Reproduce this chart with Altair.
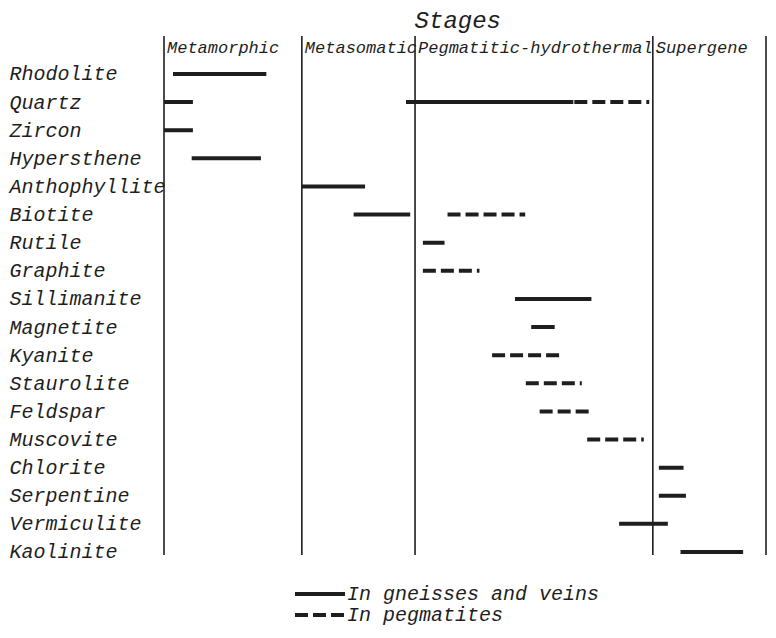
import altair as alt
import pandas as pd

minerals = ["Rhodolite", "Quartz", "Zircon", "Hypersthene", "Anthophyllite", "Biotite",
            "Rutile", "Graphite", "Sillimanite", "Magnetite", "Kyanite", "Staurolite",
            "Feldspar", "Muscovite", "Chlorite", "Serpentine", "Vermiculite", "Kaolinite"]

stage_names = ["Metamorphic", "Metasomatic", "Pegmatitic-hydrothermal", "Supergene"]
stage_bounds = [0, 22.9, 41.7, 81.2, 100]

kinds = ["In gneisses and veins", "In pegmatites"]
G, P = kinds
dash_patterns = [[1, 0], [13, 5]]

seg_mineral = ["Rhodolite", "Quartz", "Quartz", "Quartz", "Zircon", "Hypersthene",
               "Anthophyllite", "Biotite", "Biotite", "Rutile", "Graphite", "Sillimanite",
               "Magnetite", "Kyanite", "Staurolite", "Feldspar", "Muscovite", "Chlorite",
               "Serpentine", "Vermiculite", "Kaolinite"]
seg_start = [1.5, 0, 40.2, 56.2, 0, 4.6, 22.9, 31.5, 47.1, 43.0, 43.0, 58.3,
             61.0, 54.5, 60.1, 62.4, 70.3, 82.2, 82.2, 75.6, 85.8]
seg_end = [17.0, 4.8, 68.0, 80.6, 4.8, 16.1, 33.4, 40.9, 60.0, 46.6, 52.4, 71.0,
           64.9, 65.7, 69.4, 71.3, 79.7, 86.3, 86.7, 83.7, 96.2]
seg_kind = [G, G, G, P, G, G, G, G, P, G, P, G, G, P, P, P, P, G, G, G, G]

FONT = "Liberation Mono"
INK = "#1e1e1e"

segs = pd.DataFrame({
    "mineral": seg_mineral,
    "row": [minerals.index(m) for m in seg_mineral],
    "start": seg_start,
    "end": seg_end,
    "kind": seg_kind,
})
bounds = pd.DataFrame({"b": stage_bounds})
stages = pd.DataFrame({"start": stage_bounds[:-1], "name": stage_names})

label_array = "[" + ",".join("'" + m + "'" for m in minerals) + "]"

xscale = alt.Scale(domain=[0, 100], nice=False, zero=False)
yscale = alt.Scale(domain=[-1.35, 17.107], reverse=True, nice=False, zero=False)

seg_layer = alt.Chart(segs).mark_rule(strokeWidth=4, color=INK, strokeCap="butt").encode(
    x=alt.X("start:Q", scale=xscale, axis=None),
    x2="end:Q",
    y=alt.Y("row:Q", scale=yscale, title=None,
            axis=alt.Axis(values=list(range(len(minerals))),
                          labelExpr=label_array + "[datum.value]",
                          grid=False, domain=False, ticks=False,
                          labelAlign="left", labelBaseline="middle",
                          labelPadding=155, labelFlush=False, labelOverlap=False,
                          labelLimit=0, labelFont=FONT, labelFontSize=20,
                          labelFontStyle="italic", labelColor=INK)),
    strokeDash=alt.StrokeDash(
        "kind:N",
        scale=alt.Scale(domain=kinds, range=dash_patterns),
        legend=None),
)

bound_layer = alt.Chart(bounds).mark_rule(strokeWidth=1.6, color=INK).encode(
    x=alt.X("b:Q", scale=xscale, axis=None)
)

stage_text = alt.Chart(stages).mark_text(
    font=FONT, fontSize=17, fontStyle="italic", color=INK, align="left",
    baseline="alphabetic", dx=3
).encode(
    x=alt.X("start:Q", scale=xscale, axis=None),
    y=alt.value(17),
    text="name:N",
)

title_text = alt.Chart(pd.DataFrame({"t": ["Stages"]})).mark_text(
    font=FONT, fontSize=24, fontStyle="italic", color=INK, align="center",
    baseline="alphabetic"
).encode(
    x=alt.datum(48.8, scale=xscale),
    y=alt.value(-8),
    text="t:N",
)

# hand-drawn legend below the plot
legend_layers = []
legend_rows = [558, 579]
for k, dash, ly in zip(kinds, dash_patterns, legend_rows):
    ld = pd.DataFrame({"label": [k]})
    legend_layers.append(
        alt.Chart(ld).mark_rule(strokeWidth=4, color=INK, strokeCap="butt",
                                strokeDash=dash).encode(
            x=alt.value(131), x2=alt.value(181), y=alt.value(ly)
        )
    )
    legend_layers.append(
        alt.Chart(ld).mark_text(font=FONT, fontSize=20, fontStyle="italic", color=INK,
                                align="left", baseline="middle").encode(
            x=alt.value(183), y=alt.value(ly), text="label:N"
        )
    )

chart = alt.layer(bound_layer, seg_layer, stage_text, title_text, *legend_layers).properties(
    width=602, height=519,
    autosize=alt.AutoSizeParams(type="none"),
    padding={"left": 156, "top": 28, "right": 2, "bottom": 75},
    background="white",
).configure_view(stroke=None)

chart.save("out.html", embed_options={"renderer": "svg", "actions": False})
